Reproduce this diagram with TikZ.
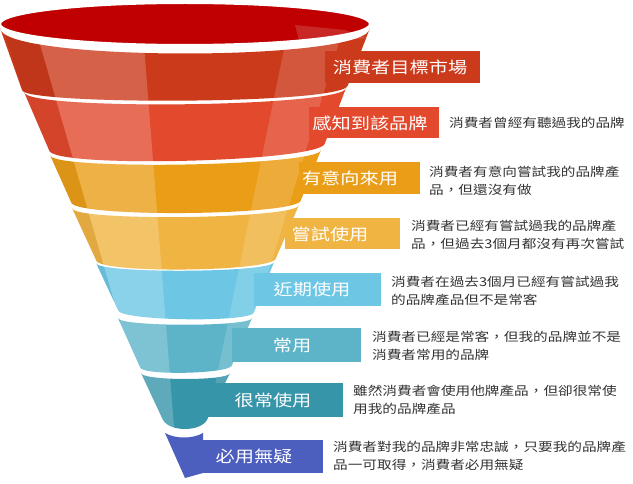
\documentclass[tikz,border=0pt]{standalone}
\usepackage{fontspec}
\newfontfamily\cjk[FakeStretch=1.2]{Noto Sans CJK TC}
\begin{document}
\begin{tikzpicture}[x=1pt,y=-1pt,
  lab/.style={text=white,font=\cjk\fontsize{16}{18}\selectfont,inner sep=0pt},
  desc/.style={text=black!80,font=\cjk\fontsize{12.2}{18}\selectfont,anchor=west,align=left,inner sep=0pt},
  box/.style={draw=none}]
\definecolor{c1}{HTML}{CC3A1C}\definecolor{c2}{HTML}{E2492D}
\definecolor{c3}{HTML}{EA9E18}\definecolor{c4}{HTML}{F0B443}
\definecolor{c5}{HTML}{6DC7E4}\definecolor{c6}{HTML}{5DB4C8}
\definecolor{c7}{HTML}{3795A9}\definecolor{c8}{HTML}{4C5EBE}
\definecolor{top}{HTML}{C00000}
\useasboundingbox (0,0) rectangle (633,484);
% band macro: TLx TLy TRx TRy BRx BRy BLx BLy sagTop sagBot
\newcommand\bandpath[9]{(#1,#2) .. controls (#1,#2+#9) and (#3,#4+#9) .. (#3,#4) -- (#5,#6) .. controls (#5,#6+#9) and (#7,#8+#9) .. (#7,#8) -- cycle}
% boxes
\fill[c1] (325,51) rectangle (480,83);
\fill[c2] (309,107) rectangle (439,138);
\fill[c3] (299,162) rectangle (420,194);
\fill[c4] (285,218) rectangle (400,249);
\fill[c5] (254,273) rectangle (381,306);
\fill[c6] (232,328) rectangle (361,362);
\fill[c7] (207,383) rectangle (343,417);
\fill[c8] (203,440) rectangle (323,473);
% bands
\fill[c1] (0,28) .. controls (0,62) and (370,62) .. (370,28) -- (348,85) .. controls (348,105) and (22,105) .. (22,90) -- cycle;
\fill[c2] \bandpath{24}{92}{346}{88}{325}{143}{49}{150}{19};
\fill[c3] \bandpath{50}{155}{321}{150}{301}{200}{71}{202}{16};
\fill[c4] \bandpath{72}{208}{299}{205}{276}{258}{96}{260}{14};
\fill[c5] \bandpath{96}{263}{274}{262}{254}{312}{118}{310}{11};
\fill[c6] \bandpath{118}{318}{252}{318}{232}{365}{140}{367}{9};
\fill[c7] (141,373) .. controls (141,381) and (230,381) .. (230,373) -- (207,420) .. controls (200,432) and (170,432) .. (163,420) -- cycle;
\fill[c8] (165,433) .. controls (175,439) and (193,439) .. (203,433) -- (203,473) -- (185,478) -- cycle;
% highlights
\begin{scope}
\clip (0,28) .. controls (0,62) and (370,62) .. (370,28) -- (348,85) .. controls (348,105) and (22,105) .. (22,90) -- cycle
  \bandpath{24}{92}{346}{88}{325}{143}{49}{150}{19}
  \bandpath{50}{155}{321}{150}{301}{200}{71}{202}{16}
  \bandpath{72}{208}{299}{205}{276}{258}{96}{260}{14}
  \bandpath{96}{263}{274}{262}{254}{312}{118}{310}{11}
  \bandpath{118}{318}{252}{318}{232}{365}{140}{367}{9}
  (141,373) .. controls (141,381) and (230,381) .. (230,373) -- (207,420) .. controls (200,432) and (170,432) .. (163,420) -- cycle;
\fill[white,opacity=.2] (33,20) -- (142,20) -- (178,478) -- (165,478) -- cycle;
\fill[white,opacity=.15] (290,20) -- (346,20) -- (205,478) -- (196,478) -- cycle;
\fill[black,opacity=.06] (0,20) -- (33,20) -- (165,478) -- (150,478) -- cycle;
\end{scope}
% redraw boxes over highlights
\fill[c1] (325,51) rectangle (480,83);
\fill[c2] (309,107) rectangle (439,138);
\fill[c3] (299,162) rectangle (420,194);
\fill[c4] (285,218) rectangle (400,249);
\fill[c5] (254,273) rectangle (381,306);
\fill[c6] (232,328) rectangle (361,362);
\fill[c7] (207,383) rectangle (343,417);
% top ellipse
\fill[top,draw=white,line width=2pt] (185,24) ellipse [x radius=185, y radius=21];
\fill[white,opacity=.15] (295,25) -- (345,30) -- (366,38) -- (300,44) -- cycle;
% labels
\node[lab] (l1) at (400,67) {消費者目標市場};
\node[lab] (l2) at (370,123) {感知到該品牌};
\node[lab] (l3) at (350,178) {有意向來用};
\node[lab] (l4) at (330,234) {嘗試使用};
\node[lab] (l5) at (312,289) {近期使用};
\node[lab] (l6) at (292,345) {常用};
\node[lab] (l7) at (273,400) {很常使用};
\node[lab] (l8) at (254,456) {必用無疑};
\node[desc] (d2) at (449,123) {消費者曾經有聽過我的品牌};
\node[desc] (d3) at (429,181) {消費者有意向嘗試我的品牌產\\品，但還沒有做};
\node[desc] (d4) at (411,235) {消費者已經有嘗試過我的品牌產\\品，但過去3個月都沒有再次嘗試};
\node[desc] (d5) at (391,291) {消費者在過去3個月已經有嘗試過我\\的品牌產品但不是常客};
\node[desc] (d6) at (372,346) {消費者已經是常客，但我的品牌並不是\\消費者常用的品牌};
\node[desc] (d7) at (353,400) {雖然消費者會使用他牌產品，但卻很常使\\用我的品牌產品};
\node[desc] (d8) at (333,456) {消費者對我的品牌非常忠誠，只要我的品牌產\\品一可取得，消費者必用無疑};
\end{tikzpicture}
\end{document}
